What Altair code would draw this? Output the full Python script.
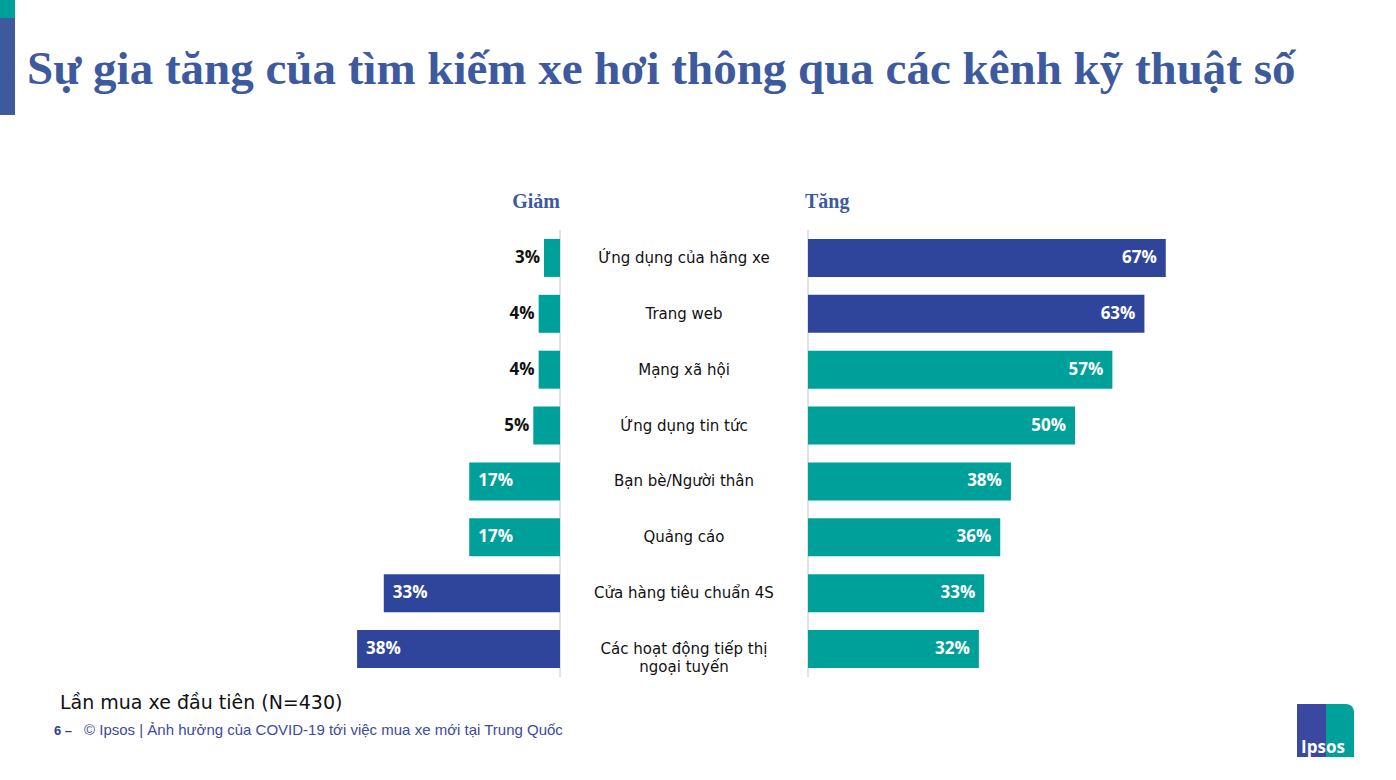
import altair as alt
import pandas as pd

categories = [
    "Ứng dụng của hãng xe",
    "Trang web",
    "Mạng xã hội",
    "Ứng dụng tin tức",
    "Bạn bè/Người thân",
    "Quảng cáo",
    "Cửa hàng tiêu chuẩn 4S",
    "Các hoạt động tiếp thị\nngoại tuyến",
]
decrease = [3, 4, 4, 5, 17, 17, 33, 38]
increase = [67, 63, 57, 50, 38, 36, 33, 32]
decrease_hl = [0, 0, 0, 0, 0, 0, 1, 1]
increase_hl = [1, 1, 0, 0, 0, 0, 0, 0]

title_text = "Sự gia tăng của tìm kiếm xe hơi thông qua các kênh kỹ thuật số"
left_header = "Giảm"
right_header = "Tăng"
base_note = "Lần mua xe đầu tiên (N=430)"
page_no = "6 –"
footer_text = "© Ipsos | Ảnh hưởng của COVID-19 tới việc mua xe mới tại Trung Quốc"

TEAL = "#00A09A"
NAVY = "#2F459B"
TITLE_BLUE = "#3D5A9E"

df = pd.DataFrame({
    "cat": categories,
    "dec": decrease,
    "inc": increase,
    "dec_hl": decrease_hl,
    "inc_hl": increase_hl,
})
df["dec_lbl"] = df["dec"].astype(str) + "%"
df["inc_lbl"] = df["inc"].astype(str) + "%"

yscale = alt.Scale(domain=categories, range=[230, 677], paddingInner=0.32, paddingOuter=0.16)
Y = alt.Y("cat:N", scale=yscale, axis=None, sort=categories)
xl = alt.Scale(domain=[0, 100], range=[560, 26])
xr = alt.Scale(domain=[0, 100], range=[808, 1342])
cscale = alt.Scale(domain=[0, 1], range=[TEAL, NAVY])

base = alt.Chart(df)

left_bars = base.mark_bar().encode(
    x=alt.X("dec:Q", scale=xl, axis=None),
    y=Y,
    color=alt.Color("dec_hl:N", scale=cscale, legend=None),
)
right_bars = base.mark_bar().encode(
    x=alt.X("inc:Q", scale=xr, axis=None),
    y=Y,
    color=alt.Color("inc_hl:N", scale=cscale, legend=None),
)

left_small = base.transform_filter("datum.dec <= 5").mark_text(
    align="right", baseline="middle", dx=-4, font="Open Sans", fontWeight="bold", fontSize=17, color="#111111"
).encode(x=alt.X("dec:Q", scale=xl, axis=None), y=Y, text="dec_lbl:N")

left_big = base.transform_filter("datum.dec > 5").mark_text(
    align="left", baseline="middle", dx=9, font="Open Sans", fontWeight="bold", fontSize=17, color="white"
).encode(x=alt.X("dec:Q", scale=xl, axis=None), y=Y, text="dec_lbl:N")

right_lbl = base.mark_text(
    align="right", baseline="middle", dx=-9, font="Open Sans", fontWeight="bold", fontSize=17, color="white"
).encode(x=alt.X("inc:Q", scale=xr, axis=None), y=Y, text="inc_lbl:N")

center_lbl = base.mark_text(
    align="center", baseline="middle", font="DejaVu Sans", fontSize=15, color="#111111", lineBreak="\n", lineHeight=18
).encode(x=alt.value(684), y=Y, text="cat:N")

one = pd.DataFrame({"k": [0]})

rules = alt.Chart(pd.DataFrame({"k": [0, 1]})).mark_rule(color="#d9d9d9", strokeWidth=1.5).encode(
    x=alt.X("k:Q", scale=alt.Scale(domain=[0, 1], range=[560, 808]), axis=None),
    y=alt.value(230), y2=alt.value(677),
)

stripe_top = alt.Chart(one).mark_rect(color=TEAL).encode(
    x=alt.value(0), x2=alt.value(15), y=alt.value(0), y2=alt.value(18))
stripe_bot = alt.Chart(one).mark_rect(color="#3E5A9C").encode(
    x=alt.value(0), x2=alt.value(15), y=alt.value(18), y2=alt.value(115))

title = alt.Chart(pd.DataFrame({"t": [title_text]})).mark_text(
    align="left", baseline="alphabetic", font="Liberation Serif", fontWeight="bold",
    fontSize=47, color=TITLE_BLUE
).encode(x=alt.value(27), y=alt.value(84), text="t:N")

hdr_l = alt.Chart(pd.DataFrame({"t": [left_header]})).mark_text(
    align="right", baseline="alphabetic", font="Liberation Serif", fontWeight="bold", fontSize=20, color=TITLE_BLUE
).encode(x=alt.value(560), y=alt.value(208), text="t:N")
hdr_r = alt.Chart(pd.DataFrame({"t": [right_header]})).mark_text(
    align="left", baseline="alphabetic", font="Liberation Serif", fontWeight="bold", fontSize=20, color=TITLE_BLUE
).encode(x=alt.value(805), y=alt.value(208), text="t:N")

note = alt.Chart(pd.DataFrame({"t": [base_note]})).mark_text(
    align="left", baseline="alphabetic", font="DejaVu Sans", fontSize=19, color="#111111"
).encode(x=alt.value(60), y=alt.value(709), text="t:N")

pg = alt.Chart(pd.DataFrame({"t": [page_no]})).mark_text(
    align="left", baseline="alphabetic", font="Liberation Sans", fontWeight="bold", fontSize=13, color="#2F3F8F"
).encode(x=alt.value(54), y=alt.value(735), text="t:N")
foot = alt.Chart(pd.DataFrame({"t": [footer_text]})).mark_text(
    align="left", baseline="alphabetic", font="Liberation Sans", fontSize=15, color="#3D4B9A"
).encode(x=alt.value(84), y=alt.value(735), text="t:N")

logo_l = alt.Chart(one).mark_rect(color="#3A48A0").encode(
    x=alt.value(1297), x2=alt.value(1326), y=alt.value(704), y2=alt.value(757))
logo_r = alt.Chart(one).mark_rect(color="#00A19B", cornerRadiusTopRight=8).encode(
    x=alt.value(1326), x2=alt.value(1354), y=alt.value(704), y2=alt.value(757))
logo_t = alt.Chart(pd.DataFrame({"t": ["Ipsos"]})).mark_text(
    align="center", baseline="alphabetic", font="Open Sans", fontWeight="bold", fontSize=17, color="white"
).encode(x=alt.value(1323), y=alt.value(753), text="t:N")

chart = alt.layer(
    stripe_top, stripe_bot, title, hdr_l, hdr_r, rules,
    left_bars, right_bars, left_small, left_big, right_lbl, center_lbl,
    note, pg, foot, logo_l, logo_r, logo_t,
).resolve_scale(x="independent", color="shared").properties(
    width=1396, height=780, autosize=alt.AutoSizeParams(type="none"), padding=0,
    background="white",
).configure_view(stroke=None)

chart.save("out.html", embed_options={"renderer": "svg", "actions": False})
